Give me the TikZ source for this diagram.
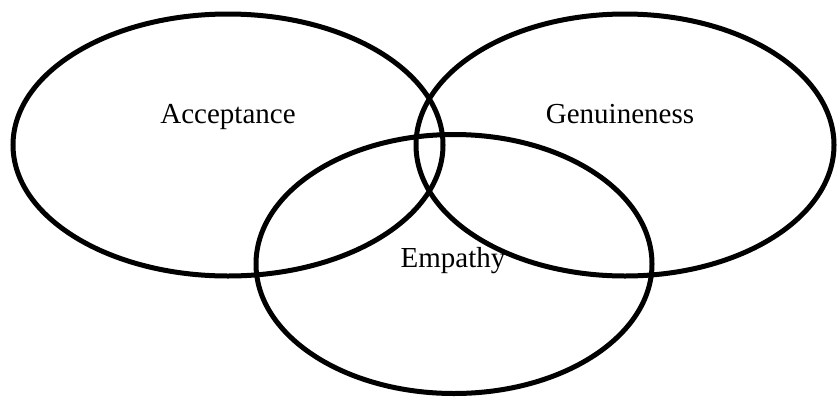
\documentclass[tikz,border=0pt]{standalone}
\usepackage{fontspec}
\setmainfont{Liberation Serif}

\begin{document}
\begin{tikzpicture}[
  x=1pt, y=-1pt,
  lbl/.style={font=\fontsize{29}{34}\selectfont, inner sep=0pt, anchor=base},
  set/.style={draw=black, line width=5pt}
]
\useasboundingbox (0,0) rectangle (838,397);
% --- labels
\node[lbl] (acc) at (228,123) {Acceptance};
\node[lbl] (gen) at (620,123) {Genuineness};
\node[lbl] (emp) at (453,267) {Empathy};

% --- the three sets
\draw[set] (228,145) ellipse [x radius=215pt, y radius=131pt];
\draw[set] (625,145) ellipse [x radius=209pt, y radius=131pt];
\draw[set] (454,264) ellipse [x radius=198pt, y radius=129.5pt];
\end{tikzpicture}
\end{document}
